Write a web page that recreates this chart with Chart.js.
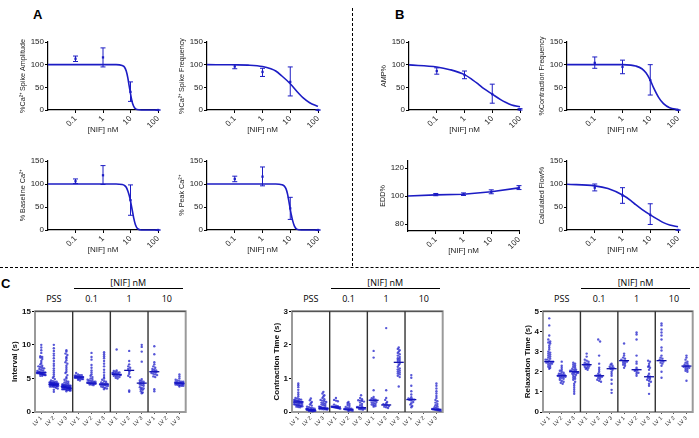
<!DOCTYPE html>
<html>
<head>
<meta charset="utf-8">
<script src="https://cdn.jsdelivr.net/npm/chart.js@4.4.1/dist/chart.umd.min.js"></script>
<style>
  body { margin: 0; background: #fff; width: 699px; height: 438px; position: relative; overflow: hidden;
         font-family: "Liberation Sans", Arial, sans-serif; }
  .lbl { position: absolute; color: #000; white-space: nowrap; }
  .panel { font-weight: bold; font-size: 13px; }
  .grp { font-family: "Open Sans", sans-serif; font-size: 9px; transform: translate(-50%, -50%); }
  .vdash { position: absolute; left: 352px; top: 8px; height: 258px; border-left: 1px dashed #000; }
  .hdash { position: absolute; left: 0; top: 267px; width: 699px; border-top: 1px dashed #000; }
  .bar { position: absolute; height: 0; border-top: 1.3px solid #000; }
</style>
</head>
<body>
<div class="vdash"></div>
<div class="hdash"></div>
<div class="lbl panel" style="left:33px;top:7px">A</div>
<div class="lbl panel" style="left:395px;top:7px">B</div>
<div class="lbl panel" style="left:1px;top:276px">C</div>
<script>
// dose-response panels (A, B)
const doses = [0.1, 1, 10, 100];

const ampMean = [113, 116, 40, 0], ampLo = [107, 95, 19, 0], ampHi = [119, 137, 62, 0];
const ampFitX = [0.01, 1, 3, 5, 6, 7, 8, 9, 10, 11, 12, 14, 17, 25, 100];
const ampFitY = [100, 100, 100, 98, 95, 86, 71, 52, 36, 23, 14, 5, 1, 0, 0];

const freqMean = [96, 84, 62, 0], freqLo = [91, 74, 31, 0], freqHi = [100, 92, 95, 0];
const freqFitX = [0.01, 0.1, 0.3, 1, 2, 3, 5, 10, 20, 30, 50, 100];
const freqFitY = [100, 99.7, 99, 96, 91, 86, 75, 58, 37, 26, 16, 8];

const baseMean = [106, 119, 65, 0], baseLo = [101, 99, 32, 0], baseHi = [111, 140, 98, 0];
const baseFitX = [0.01, 3, 5, 6, 7, 8, 9, 10, 11, 12, 13, 15, 18, 25, 100];
const baseFitY = [100, 100, 99, 97, 93, 85, 75, 63, 50, 38, 27, 12, 3, 0, 0];

const peakMean = [111, 116, 47, 0], peakLo = [105, 96, 23, 0], peakHi = [117, 137, 71, 0];
const peakFitX = [0.01, 3, 5, 6, 7, 8, 9, 10, 11, 12, 14, 17, 25, 100];
const peakFitY = [100, 100, 98.5, 96, 90, 78, 61, 45, 32, 22, 9, 2, 0, 0];

const ampPMean = [86, 77, 35, 1], ampPLo = [79, 69, 15, 0], ampPHi = [93, 86, 57, 3];
const ampPFitX = [0.01, 0.1, 0.3, 1, 2, 3, 5, 10, 20, 30, 50, 100];
const ampPFitY = [99.5, 95, 89, 78, 66, 58, 47, 35, 23, 17, 11, 7];

const contrMean = [104, 95, 66, 0], contrLo = [92, 80, 33, 0], contrHi = [117, 110, 100, 0];
const contrFitX = [0.01, 1, 2, 3, 5, 7, 10, 13, 20, 30, 50, 100];
const contrFitY = [100, 100, 99, 97, 91, 82, 66, 50, 28, 14, 5, 1];

const eddMean = [101, 101.3, 103, 106], eddLo = [100.2, 100.4, 101.6, 104.6], eddHi = [101.8, 102.2, 104.4, 107.4];
const eddFitX = [0.01, 0.1, 1, 10, 100];
const eddFitY = [100, 100.8, 101.3, 103, 105.8];

const flowMean = [92, 75, 33, 0], flowLo = [85, 58, 12, 0], flowHi = [100, 92, 57, 0];
const flowFitX = [0.01, 0.1, 0.3, 1, 2, 3, 5, 10, 20, 30, 50, 100];
const flowFitY = [99.5, 96, 90, 76, 64, 55, 45, 33, 22, 16, 11, 7];

// scatter panels (C): [LV1, LV2, LV3] per treatment
const lvLabels = ['LV 1', 'LV 2', 'LV 3'];
const groupNames = ['PSS', '0.1', '1', '10'];

const intervalPSS = [
  [10.0, 9.6, 9.2, 8.8, 8.3, 8.2, 8.1, 7.9, 7.6, 7.3, 7.1, 6.9, 6.8, 6.7, 6.6, 6.5, 6.4, 6.3, 6.2, 6.1, 6.0, 6.0, 5.9, 5.9, 5.9, 5.8, 5.8, 5.8, 5.8, 5.7, 5.7, 5.7, 5.7, 5.6, 5.6, 5.6, 5.5, 5.5, 5.4, 5.4],
  [10.0, 9.5, 9.1, 8.7, 8.4, 8.0, 7.6, 7.2, 6.9, 6.5, 6.2, 5.9, 5.6, 5.3, 5.1, 4.9, 4.7, 4.6, 4.5, 4.5, 4.4, 4.4, 4.4, 4.3, 4.3, 4.3, 4.3, 4.2, 4.2, 4.2, 4.2, 4.2, 4.1, 4.1, 4.1, 4.1, 4.1, 4.0, 4.0, 4.0, 4.0, 4.0, 3.9, 3.9, 3.9, 3.9, 3.8, 3.8, 3.8, 3.7, 3.6, 3.5, 3.3, 3.0],
  [9.2, 9.0, 8.7, 8.5, 8.2, 8.0, 7.7, 7.4, 7.2, 6.9, 6.6, 6.3, 6.0, 5.8, 5.5, 5.2, 5.0, 4.8, 4.6, 4.5, 4.4, 4.3, 4.2, 4.1, 4.1, 4.0, 4.0, 4.0, 3.9, 3.9, 3.9, 3.9, 3.8, 3.8, 3.8, 3.8, 3.8, 3.7, 3.7, 3.7, 3.7, 3.7, 3.7, 3.6, 3.6, 3.6, 3.6, 3.6, 3.6, 3.5, 3.5, 3.5, 3.5, 3.5, 3.4, 3.4, 3.4, 3.4, 3.3, 3.3, 3.3, 3.2, 3.2, 3.1]
];
const interval01 = [
  [5.8, 5.6, 5.5, 5.5, 5.4, 5.4, 5.3, 5.3, 5.3, 5.2, 5.2, 5.2, 5.2, 5.1, 5.1, 5.1, 5.0, 5.0, 5.0, 4.9, 4.9, 4.8, 4.7],
  [8.8, 8.2, 7.8, 7.0, 6.6, 6.2, 5.9, 5.6, 5.4, 5.2, 5.0, 4.9, 4.8, 4.7, 4.6, 4.6, 4.5, 4.5, 4.4, 4.4, 4.3, 4.3, 4.3, 4.2, 4.2, 4.2, 4.1, 4.1, 4.0],
  [8.9, 8.6, 8.3, 8.0, 7.6, 7.2, 6.8, 6.3, 5.9, 5.5, 5.2, 5.0, 4.8, 4.6, 4.5, 4.4, 4.3, 4.2, 4.2, 4.1, 4.1, 4.0, 4.0, 3.9, 3.9, 3.8, 3.7, 3.6, 3.5, 3.4]
];
const interval1 = [
  [9.3, 6.2, 6.1, 6.0, 5.9, 5.9, 5.8, 5.8, 5.7, 5.7, 5.6, 5.6, 5.6, 5.5, 5.5, 5.4, 5.4, 5.3, 5.2, 5.1, 5.0],
  [9.1, 7.6, 7.1, 6.8, 6.6, 6.4, 6.2, 6.0, 5.7, 5.4, 5.2, 3.2, 3.0],
  [10.0, 9.7, 9.0, 7.5, 4.9, 4.7, 4.6, 4.5, 4.4, 4.3, 4.2, 4.1, 4.0, 3.9, 3.7, 3.6, 3.5, 3.4, 3.3, 3.1, 2.9, 2.8]
];
const interval10 = [
  [9.8, 8.6, 7.4, 7.1, 6.8, 6.6, 6.4, 6.3, 6.2, 6.1, 6.0, 5.9, 5.8, 5.7, 5.6, 5.5, 5.3, 5.2, 3.4, 3.1],
  [],
  [5.6, 5.3, 5.0, 4.8, 4.7, 4.6, 4.5, 4.5, 4.4, 4.4, 4.4, 4.3, 4.3, 4.3, 4.3, 4.2, 4.2, 4.2, 4.1, 4.1, 4.0, 4.0, 3.9, 3.9, 3.8]
];
const intervalMedian = [[5.85, 4.1, 3.7], [5.2, 4.3, 4.15], [5.6, 6.2, 4.3], [6.0, null, 4.3]];

const contrPSS = [
  [0.85, 0.80, 0.74, 0.66, 0.58, 0.52, 0.46, 0.42, 0.40, 0.38, 0.37, 0.36, 0.35, 0.34, 0.33, 0.32, 0.31, 0.30, 0.30, 0.29, 0.28, 0.27, 0.26, 0.25, 0.24, 0.23, 0.22, 0.21, 0.20, 0.20, 0.19, 0.18, 0.17, 0.16, 0.15, 0.14],
  [0.40, 0.35, 0.30, 0.26, 0.22, 0.19, 0.16, 0.14, 0.12, 0.11, 0.10, 0.09, 0.09, 0.08, 0.08, 0.07, 0.07, 0.07, 0.06, 0.06, 0.06, 0.06, 0.05, 0.05, 0.05, 0.05, 0.04, 0.04, 0.04, 0.03, 0.03, 0.02],
  [0.60, 0.55, 0.50, 0.46, 0.42, 0.38, 0.36, 0.34, 0.32, 0.30, 0.28, 0.26, 0.24, 0.22, 0.20, 0.18, 0.16, 0.15, 0.14, 0.13, 0.12, 0.12, 0.11, 0.11, 0.10, 0.10, 0.10, 0.09, 0.09, 0.08, 0.08, 0.07]
];
const contr01 = [
  [0.42, 0.36, 0.34, 0.32, 0.22, 0.19, 0.17, 0.16, 0.16, 0.15, 0.15, 0.14, 0.14, 0.13, 0.13, 0.12, 0.12, 0.11, 0.10],
  [0.30, 0.27, 0.24, 0.21, 0.18, 0.15, 0.13, 0.11, 0.10, 0.09, 0.08, 0.08, 0.07, 0.07, 0.06, 0.06, 0.05, 0.04, 0.03],
  [0.50, 0.42, 0.38, 0.35, 0.34, 0.33, 0.31, 0.28, 0.24, 0.20, 0.17, 0.15, 0.14, 0.13, 0.12, 0.12, 0.11, 0.10, 0.09, 0.08, 0.07]
];
const contr1 = [
  [1.82, 1.62, 0.65, 0.45, 0.41, 0.39, 0.37, 0.35, 0.34, 0.32, 0.30, 0.28, 0.26, 0.24, 0.22, 0.20, 0.18, 0.16],
  [2.50, 0.65, 0.42, 0.36, 0.30, 0.26, 0.23, 0.21, 0.20, 0.18, 0.16, 0.14, 0.12],
  [1.92, 1.88, 1.84, 1.80, 1.76, 1.72, 1.68, 1.64, 1.60, 1.58, 1.55, 1.52, 1.48, 1.44, 1.40, 1.35, 1.30, 1.27, 1.24, 1.21, 1.18, 1.15, 1.12, 1.08, 1.04, 0.76]
];
const contr10 = [
  [1.10, 1.02, 0.78, 0.62, 0.52, 0.44, 0.40, 0.39, 0.38, 0.37, 0.36, 0.34, 0.30, 0.26, 0.22, 0.18, 0.14],
  [],
  [0.85, 0.78, 0.70, 0.62, 0.55, 0.48, 0.42, 0.36, 0.32, 0.28, 0.24, 0.20, 0.17, 0.14, 0.12, 0.10, 0.09, 0.08, 0.08, 0.07, 0.07, 0.06, 0.06, 0.05, 0.05, 0.04]
];
const contrMedian = [[0.30, 0.06, 0.11], [0.15, 0.08, 0.13], [0.35, 0.21, 1.48], [0.37, null, 0.08]];

const relaxPSS = [
  [4.65, 4.3, 3.8, 3.6, 3.5, 3.45, 3.4, 3.3, 3.2, 3.1, 3.0, 2.95, 2.9, 2.85, 2.8, 2.75, 2.7, 2.65, 2.6, 2.6, 2.55, 2.5, 2.5, 2.45, 2.45, 2.4, 2.4, 2.35, 2.3, 2.25, 2.2, 2.15],
  [2.5, 2.3, 2.2, 2.1, 2.05, 2.0, 1.95, 1.9, 1.9, 1.85, 1.85, 1.8, 1.8, 1.8, 1.75, 1.75, 1.7, 1.7, 1.65, 1.6, 1.55, 1.5, 1.45, 1.4],
  [2.45, 2.4, 2.35, 2.3, 2.25, 2.2, 2.15, 2.1, 2.1, 2.05, 2.05, 2.0, 2.0, 2.0, 1.95, 1.95, 1.9, 1.9, 1.85, 1.8, 1.75, 1.7, 1.65, 1.6, 1.5, 1.4, 1.3, 1.2, 1.1, 1.0, 0.9]
];
const relax01 = [
  [2.9, 2.75, 2.6, 2.55, 2.5, 2.45, 2.4, 2.4, 2.35, 2.35, 2.3, 2.3, 2.25, 2.2, 2.2, 2.15, 2.1],
  [3.6, 3.5, 2.8, 2.4, 2.2, 2.1, 2.0, 1.9, 1.85, 1.8, 1.8, 1.75, 1.75, 1.7, 1.65, 1.6, 1.55, 1.5],
  [2.4, 2.35, 2.3, 2.25, 2.2, 2.2, 2.15, 2.1, 2.0, 1.9, 1.8, 1.6, 1.4, 1.1, 0.95]
];
const relax1 = [
  [3.4, 2.9, 2.8, 2.7, 2.65, 2.6, 2.55, 2.5, 2.5, 2.45, 2.4, 2.35, 2.3, 2.2],
  [3.95, 3.85, 3.6, 2.8, 2.5, 2.4, 2.2, 2.1, 2.1, 2.05, 2.0, 1.95, 1.9, 1.8],
  [2.55, 2.5, 2.4, 2.3, 2.25, 2.2, 2.1, 1.9, 1.8, 1.75, 1.7, 1.65, 1.6, 1.55, 1.5, 1.4, 1.3, 0.9]
];
const relax10 = [
  [4.4, 4.3, 4.1, 3.95, 3.8, 3.6, 3.2, 3.05, 2.8, 2.7, 2.65, 2.6, 2.55, 2.5, 2.45, 2.4, 2.3, 2.0, 1.7],
  [],
  [2.8, 2.7, 2.6, 2.5, 2.45, 2.4, 2.35, 2.3, 2.3, 2.25, 2.25, 2.2, 2.2, 2.15, 2.1, 2.05, 2.0, 1.55]
];
const relaxMedian = [[2.5, 1.8, 2.0], [2.35, 1.8, 2.15], [2.55, 2.1, 1.75], [2.55, null, 2.28]];

const BLUE = '#1c1cc4';
const FONT = '"Liberation Sans", Arial, sans-serif';
Chart.defaults.font.family = FONT;
Chart.defaults.color = '#222';

function place(left, top, w, h) {
  const c = document.createElement('canvas');
  c.width = w; c.height = h;
  c.style.cssText = `position:absolute;left:${left}px;top:${top}px;width:${w}px;height:${h}px`;
  document.body.appendChild(c);
  return c;
}

const errorBars = {
  id: 'errorBars',
  afterDatasetsDraw(chart) {
    const ds = chart.data.datasets[1];
    const xs = chart.scales.x, ys = chart.scales.y, ctx = chart.ctx;
    ctx.save();
    ctx.strokeStyle = BLUE;
    ctx.lineWidth = 1;
    ds.data.forEach((p, i) => {
      const x = xs.getPixelForValue(p.x);
      const y1 = ys.getPixelForValue(ds.errLo[i]), y2 = ys.getPixelForValue(ds.errHi[i]);
      ctx.beginPath();
      ctx.moveTo(x, y1); ctx.lineTo(x, y2);
      ctx.moveTo(x - 2.5, y1); ctx.lineTo(x + 2.5, y1);
      ctx.moveTo(x - 2.5, y2); ctx.lineTo(x + 2.5, y2);
      ctx.stroke();
    });
    ctx.restore();
  }
};

// y titles here run longer than the axis, so they are drawn without Chart.js' maxWidth squeeze
const yTitle = {
  id: 'yTitle',
  afterDraw(chart, args, opts) {
    const { ctx, chartArea: a } = chart;
    ctx.save();
    ctx.translate(9, (a.top + a.bottom) / 2);
    ctx.rotate(-Math.PI / 2);
    ctx.font = `7.2px ${FONT}`;
    ctx.fillStyle = '#222';
    ctx.textAlign = 'center';
    ctx.textBaseline = 'middle';
    ctx.fillText(opts.text, 0, 0);
    ctx.restore();
  }
};

function doseChart(o) {
  const yW = 34, xH = 29, padT = 12, padR = 8;
  const left = o.ax - yW, w = o.right - left + padR, h = o.bottom - o.top + padT + xH;
  const c = place(left, o.top - padT, w, h);
  new Chart(c, {
    type: 'line',
    data: {
      datasets: [
        { data: o.fitX.map((x, i) => ({ x, y: o.fitY[i] })), borderColor: BLUE, borderWidth: 1.6,
          pointRadius: 0, cubicInterpolationMode: o.straight ? 'default' : 'monotone', tension: 0, clip: false },
        { data: doses.map((x, i) => ({ x, y: o.mean[i] })), showLine: false, pointStyle: 'rect',
          pointRadius: 1.6, backgroundColor: BLUE, borderWidth: 0, clip: false, errLo: o.lo, errHi: o.hi }
      ]
    },
    options: {
      responsive: false, animation: false,
      layout: { padding: { top: padT, right: padR, left: 0, bottom: 0 } },
      plugins: { legend: { display: false }, tooltip: { enabled: false }, yTitle: { text: o.title } },
      scales: {
        x: {
          type: 'logarithmic', min: 0.01, max: 100,
          afterBuildTicks: s => { s.ticks = doses.map(v => ({ value: v })); },
          afterFit: s => { s.height = xH; },
          ticks: { autoSkip: false, minRotation: 45, maxRotation: 45, font: { size: 8 }, padding: 1, callback: v => String(v) },
          grid: { drawOnChartArea: false, color: '#000', tickLength: 3 },
          border: { color: '#000', width: 1.2 },
          title: { display: true, text: '[NIF] nM', font: { size: 8 }, padding: { top: 0, bottom: 4 } }
        },
        y: {
          min: o.yMin, max: o.yMax,
          afterBuildTicks: s => { s.ticks = o.yTicks.map(v => ({ value: v })); },
          afterFit: s => { s.width = yW; },
          ticks: { font: { size: 8 }, padding: 1 },
          grid: { drawOnChartArea: false, color: '#000', tickLength: 3 },
          border: { color: '#000', width: 1.2 }
        }
      }
    },
    plugins: [errorBars, yTitle]
  });
}

const pctTicks = [0, 50, 100, 150];
doseChart({ ax: 48, right: 158, top: 42, bottom: 110, yMin: 0, yMax: 150, yTicks: pctTicks,
  title: '%Ca²⁺ Spike Amplitude', fitX: ampFitX, fitY: ampFitY, mean: ampMean, lo: ampLo, hi: ampHi });
doseChart({ ax: 207, right: 318, top: 42, bottom: 110, yMin: 0, yMax: 150, yTicks: pctTicks,
  title: '%Ca²⁺ Spike Frequency', fitX: freqFitX, fitY: freqFitY, mean: freqMean, lo: freqLo, hi: freqHi });
doseChart({ ax: 409, right: 520, top: 42, bottom: 110, yMin: 0, yMax: 150, yTicks: pctTicks,
  title: 'AMP%', fitX: ampPFitX, fitY: ampPFitY, mean: ampPMean, lo: ampPLo, hi: ampPHi });
doseChart({ ax: 567, right: 678, top: 42, bottom: 110, yMin: 0, yMax: 150, yTicks: pctTicks,
  title: '%Contraction Frequency', fitX: contrFitX, fitY: contrFitY, mean: contrMean, lo: contrLo, hi: contrHi });
doseChart({ ax: 48, right: 158, top: 161, bottom: 230, yMin: 0, yMax: 150, yTicks: pctTicks,
  title: '% Baseline Ca²⁺', fitX: baseFitX, fitY: baseFitY, mean: baseMean, lo: baseLo, hi: baseHi });
doseChart({ ax: 207, right: 318, top: 161, bottom: 230, yMin: 0, yMax: 150, yTicks: pctTicks,
  title: '% Peak Ca²⁺', fitX: peakFitX, fitY: peakFitY, mean: peakMean, lo: peakLo, hi: peakHi });
doseChart({ ax: 408, right: 519, top: 161, bottom: 231, yMin: 75, yMax: 125, yTicks: [80, 100, 120],
  title: 'EDD%', fitX: eddFitX, fitY: eddFitY, mean: eddMean, lo: eddLo, hi: eddHi, straight: true });
doseChart({ ax: 567, right: 678, top: 161, bottom: 230, yMin: 0, yMax: 150, yTicks: pctTicks,
  title: 'Calculated Flow%', fitX: flowFitX, fitY: flowFitY, mean: flowMean, lo: flowLo, hi: flowHi });

// beeswarm layout: values sharing a row are spread sideways around the category
function swarm(groups, yMax) {
  const pts = [];
  const bin = yMax / 45;
  groups.flat().forEach((vals, i) => {
    const rows = {};
    vals.forEach(v => { const k = Math.round(v / bin); (rows[k] = rows[k] || []).push(v); });
    Object.values(rows).forEach(row => {
      const step = Math.min(0.15, 0.75 / row.length);
      row.forEach((v, j) => pts.push({ x: i + 1 + (j - (row.length - 1) / 2) * step, y: v }));
    });
  });
  return pts;
}

const frame = {
  id: 'frame',
  beforeDatasetsDraw(chart) {
    const { ctx, chartArea: a, scales: { x } } = chart;
    ctx.save();
    ctx.strokeStyle = '#9a9a9a'; ctx.lineWidth = 2;
    ctx.strokeRect(a.left, a.top, a.right - a.left, a.bottom - a.top);
    ctx.strokeStyle = '#555'; ctx.lineWidth = 1.3;
    ctx.beginPath(); ctx.moveTo(a.left, a.top); ctx.lineTo(a.right, a.top); ctx.stroke();
    ctx.strokeStyle = '#333'; ctx.lineWidth = 1.4;
    [3.5, 6.5, 9.5].forEach(v => {
      const px = x.getPixelForValue(v);
      ctx.beginPath(); ctx.moveTo(px, a.top); ctx.lineTo(px, a.bottom); ctx.stroke();
    });
    ctx.restore();
  }
};

function swarmChart(o) {
  const xH = 18, padT = 4, padR = 2;
  const left = o.ax - o.yW, w = o.right - left + padR, h = o.bottom - o.top + padT + xH;
  const c = place(left, o.top - padT, w, h);
  const med = [];
  o.median.flat().forEach((v, i) => { if (v !== null) med.push({ x: i + 1, y: v }); });
  const chart = new Chart(c, {
    type: 'scatter',
    data: {
      datasets: [
        { data: swarm(o.groups, o.yMax), pointRadius: 1.2, backgroundColor: 'rgba(22,22,200,0.72)', borderWidth: 0, clip: false },
        { data: med, pointStyle: 'line', pointRadius: 5, borderColor: '#0d0da0', borderWidth: 1.3, clip: false }
      ]
    },
    options: {
      responsive: false, animation: false,
      layout: { padding: { top: padT, right: padR, left: 0, bottom: 0 } },
      plugins: { legend: { display: false }, tooltip: { enabled: false } },
      scales: {
        x: {
          type: 'linear', min: 0.5, max: 12.5,
          afterBuildTicks: s => { s.ticks = o.groups.flat().map((_, i) => ({ value: i + 1 })); },
          afterFit: s => { s.height = xH; },
          ticks: { autoSkip: false, minRotation: 45, maxRotation: 45, font: { size: 5.5 }, padding: 1,
                   callback: v => lvLabels[(Math.round(v) - 1) % 3] },
          grid: { drawOnChartArea: false, color: '#555', tickLength: 2 },
          border: { display: false }
        },
        y: {
          min: 0, max: o.yMax,
          afterFit: s => { s.width = o.yW; },
          ticks: { stepSize: o.yStep, font: { size: 8, weight: 'bold' }, padding: 1, color: '#111' },
          grid: { drawOnChartArea: false, color: '#000', tickLength: 3 },
          border: { display: false },
          title: { display: true, text: o.title, font: { size: 8, weight: 'bold' }, color: '#111', padding: { top: 4, bottom: 0 } }
        }
      }
    },
    plugins: [frame]
  });
  // treatment labels above the box, positioned from the chart's own x scale
  const xs = chart.scales.x;
  groupNames.forEach((g, k) => {
    const d = document.createElement('div');
    d.className = 'lbl grp';
    d.textContent = g;
    d.style.left = (left + xs.getPixelForValue(2 + 3 * k)) + 'px';
    d.style.top = '298px';
    document.body.appendChild(d);
  });
  const x0 = left + xs.getPixelForValue(3.5) + 1, x1 = left + xs.getPixelForValue(12.5) - 3;
  const bar = document.createElement('div');
  bar.className = 'bar';
  bar.style.left = x0 + 'px'; bar.style.top = '288px'; bar.style.width = (x1 - x0) + 'px';
  document.body.appendChild(bar);
  const t = document.createElement('div');
  t.className = 'lbl grp';
  t.textContent = '[NIF] nM';
  t.style.left = ((x0 + x1) / 2) + 'px'; t.style.top = '282px';
  document.body.appendChild(t);
}

swarmChart({ ax: 35, right: 190, top: 309, bottom: 412, yMax: 15, yStep: 5, yW: 29, title: 'Interval (s)',
  groups: [intervalPSS, interval01, interval1, interval10], median: intervalMedian });
swarmChart({ ax: 292, right: 447, top: 309, bottom: 412, yMax: 3, yStep: 1, yW: 24, title: 'Contraction Time (s)',
  groups: [contrPSS, contr01, contr1, contr10], median: contrMedian });
swarmChart({ ax: 543, right: 697, top: 309, bottom: 412, yMax: 5, yStep: 1, yW: 24, title: 'Relaxation Time (s)',
  groups: [relaxPSS, relax01, relax1, relax10], median: relaxMedian });
</script>
</body>
</html>
